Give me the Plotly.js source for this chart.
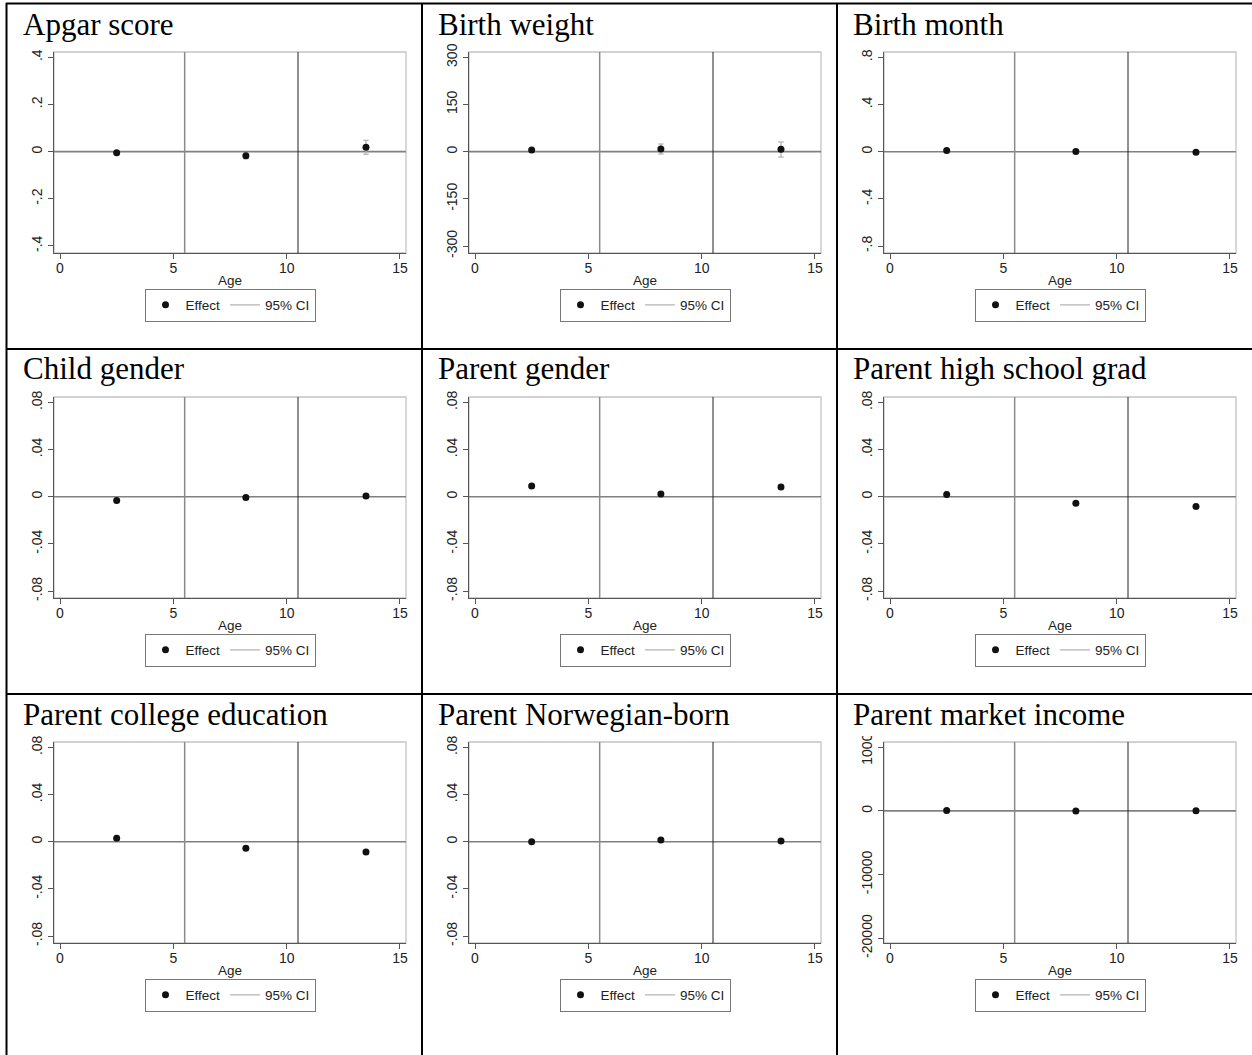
<!DOCTYPE html>
<html>
<head>
<meta charset="utf-8">
<script src="https://cdn.plot.ly/plotly-3.0.1.min.js"></script>
<style>html,body{margin:0;padding:0;background:#fff;}#chart{width:1252px;height:1055px;}</style>
</head>
<body>
<div id="chart"></div>
<script>
// ---- data ----
const ages = [2.5, 8.2, 13.5];
const titles = ["Apgar score", "Birth weight", "Birth month", "Child gender", "Parent gender",
  "Parent high school grad", "Parent college education", "Parent Norwegian-born", "Parent market income"];

const apgarEffect = [-0.005, -0.017, 0.019];
const apgarLo     = [-0.009, -0.030, -0.011];
const apgarHi     = [-0.001, -0.005, 0.048];

const bweightEffect = [5.4, 8.6, 7.6];
const bweightLo     = [2.0, -7.3, -16.9];
const bweightHi     = [8.8, 24.5, 30.9];

const bmonthEffect = [0.010, 0.002, -0.004];
const bmonthLo     = [-0.002, -0.010, -0.018];
const bmonthHi     = [0.022, 0.014, 0.010];

const cgenderEffect = [-0.0031, -0.0006, 0.0006];
const cgenderLo     = [-0.0046, -0.0022, -0.0010];
const cgenderHi     = [-0.0016, 0.0010, 0.0022];

const pgenderEffect = [0.0091, 0.0023, 0.0082];
const pgenderLo     = [0.0075, 0.0008, 0.0066];
const pgenderHi     = [0.0107, 0.0038, 0.0098];

const hsEffect = [0.0020, -0.0056, -0.0082];
const hsLo     = [0.0002, -0.0071, -0.0098];
const hsHi     = [0.0038, -0.0041, -0.0066];

const collegeEffect = [0.0030, -0.0055, -0.0088];
const collegeLo     = [0.0008, -0.0071, -0.0104];
const collegeHi     = [0.0052, -0.0039, -0.0072];

const norwEffect = [0.0000, 0.0015, 0.0006];
const norwLo     = [-0.0010, 0.0005, -0.0004];
const norwHi     = [0.0010, 0.0025, 0.0016];

const incomeEffect = [60, -20, 40];
const incomeLo     = [-250, -330, -280];
const incomeHi     = [370, 290, 360];

const effects = [apgarEffect, bweightEffect, bmonthEffect, cgenderEffect, pgenderEffect, hsEffect, collegeEffect, norwEffect, incomeEffect];
const lows    = [apgarLo, bweightLo, bmonthLo, cgenderLo, pgenderLo, hsLo, collegeLo, norwLo, incomeLo];
const highs   = [apgarHi, bweightHi, bmonthHi, cgenderHi, pgenderHi, hsHi, collegeHi, norwHi, incomeHi];

const xTicks = [0, 5, 10, 15];
const yTickVals = [
  [-0.4, -0.2, 0, 0.2, 0.4],
  [-300, -150, 0, 150, 300],
  [-0.8, -0.4, 0, 0.4, 0.8],
  [-0.08, -0.04, 0, 0.04, 0.08],
  [-0.08, -0.04, 0, 0.04, 0.08],
  [-0.08, -0.04, 0, 0.04, 0.08],
  [-0.08, -0.04, 0, 0.04, 0.08],
  [-0.08, -0.04, 0, 0.04, 0.08],
  [-20000, -10000, 0, 10000]
];
const yTickText = [
  ["-.4", "-.2", "0", ".2", ".4"],
  ["-300", "-150", "0", "150", "300"],
  ["-.8", "-.4", "0", ".4", ".8"],
  ["-.08", "-.04", "0", ".04", ".08"],
  ["-.08", "-.04", "0", ".04", ".08"],
  ["-.08", "-.04", "0", ".04", ".08"],
  ["-.08", "-.04", "0", ".04", ".08"],
  ["-.08", "-.04", "0", ".04", ".08"],
  ["-20000", "-10000", "0", "10000"]
];
const yRanges = [
  [-0.43, 0.4228], [-322, 317], [-0.859, 0.846],
  [-0.0859, 0.0846], [-0.0859, 0.0846], [-0.0859, 0.0846],
  [-0.0859, 0.0846], [-0.0859, 0.0846], [-20760, 10840]
];
const vLines = [5.5, 10.5];

// ---- layout geometry ----
const W = 1252, H = 1055;
const fx = v => v / W;
const fy = v => 1 - v / H;
const colStep = 415, rowStep = 345;

const traces = [];
const layout = {
  width: W, height: H,
  margin: {l: 0, r: 0, t: 0, b: 0},
  paper_bgcolor: '#fff', plot_bgcolor: '#fff',
  font: {family: 'Arial, "Liberation Sans", sans-serif', color: '#222', size: 13},
  showlegend: true,
  shapes: [], annotations: []
};

const capW = 0.12;
for (let i = 0; i < 9; i++) {
  const c = i % 3, r = Math.floor(i / 3);
  const sfx = i === 0 ? '' : String(i + 1);
  const xa = 'x' + sfx, ya = 'y' + sfx;
  const left = 54 + colStep * c, right = 406 + colStep * c;
  const top = 52 + rowStep * r, bottom = 253 + rowStep * r;

  // CI segments built from data
  const cx = [], cy = [];
  for (let k = 0; k < ages.length; k++) {
    const a = ages[k], lo = lows[i][k], hi = highs[i][k];
    cx.push(a, a, null, a - capW, a + capW, null, a - capW, a + capW, null);
    cy.push(lo, hi, null, lo, lo, null, hi, hi, null);
  }
  const lg = i === 0 ? 'legend' : 'legend' + (i + 1);
  traces.push({
    type: 'scatter', mode: 'lines', name: '95% CI', x: cx, y: cy,
    xaxis: xa, yaxis: ya, legend: lg,
    line: {color: '#b4b4b4', width: 1.3}, connectgaps: false
  });
  traces.push({
    type: 'scatter', mode: 'markers', name: 'Effect', x: ages, y: effects[i],
    xaxis: xa, yaxis: ya, legend: lg,
    marker: {color: '#111', size: 7, symbol: 'circle'},
    cliponaxis: false
  });

  layout['xaxis' + sfx] = {
    domain: [fx(left), fx(right)], anchor: ya,
    range: [-0.265, 15.265], tickvals: xTicks, ticktext: xTicks.map(String),
    showgrid: false, zeroline: false, showline: true, linecolor: '#555', linewidth: 1,
    ticks: 'outside', ticklen: 5, tickcolor: '#555', tickwidth: 1,
    tickfont: {size: 14, color: '#222'}, ticklabelstandoff: -3,
    title: {text: 'Age', font: {size: 13.5, color: '#222'}, standoff: 0},
    fixedrange: true
  };
  layout['yaxis' + sfx] = {
    domain: [fy(bottom), fy(top)], anchor: xa,
    range: yRanges[i], tickvals: yTickVals[i], ticktext: yTickText[i],
    tickangle: -90,
    showgrid: false, zeroline: false,
    showline: true, linecolor: '#555', linewidth: 1,
    ticks: 'outside', ticklen: 5, tickcolor: '#555', tickwidth: 1,
    tickfont: {size: 14, color: '#222'},
    fixedrange: true
  };
  // plot frame
  layout.shapes.push({type: 'rect', xref: xa + ' domain', yref: ya + ' domain', x0: 0, x1: 1, y0: 0, y1: 1,
    line: {color: '#c4c4c4', width: 1.3}, layer: 'below'});
  // zero line
  layout.shapes.push({type: 'line', xref: xa + ' domain', yref: ya, x0: 0, x1: 1, y0: 0, y1: 0,
    line: {color: '#808080', width: 1.7}, layer: 'below'});
  // vertical reference lines
  layout.shapes.push({type: 'line', xref: xa, yref: ya + ' domain', x0: vLines[0], x1: vLines[0], y0: 0, y1: 1,
    line: {color: '#8a8a8a', width: 1.5}, layer: 'below'});
  layout.shapes.push({type: 'line', xref: xa, yref: ya + ' domain', x0: vLines[1], x1: vLines[1], y0: 0, y1: 1,
    line: {color: '#222', width: 1}, layer: 'below'});

  // panel title
  layout.annotations.push({
    text: titles[i], xref: 'paper', yref: 'paper',
    x: fx(21 + colStep * c), y: fy(24 + rowStep * r), xanchor: 'left', yanchor: 'middle',
    showarrow: false, font: {family: '"Liberation Serif", "Times New Roman", serif', size: 31, color: '#000'}
  });

  // legend
  layout[lg] = {
    orientation: 'h', xref: 'paper', yref: 'paper',
    x: fx((left + right) / 2), y: fy(305 + rowStep * r), xanchor: 'center', yanchor: 'middle',
    bordercolor: '#777', borderwidth: 1, bgcolor: '#fff',
    font: {size: 13.5, color: '#222'}, itemwidth: 30, tracegroupgap: 0,
    traceorder: 'reversed', itemclick: false, itemdoubleclick: false
  };
}

// clip of the top tick label in the last panel (graph region edge)
layout.shapes.push({type: 'rect', xref: 'paper', yref: 'paper', x0: fx(856), x1: fx(880), y0: fy(736), y1: fy(712),
  fillcolor: '#fff', line: {width: 0}, layer: 'above'});

// table rules
const lineBlack = {color: '#000', width: 2};
layout.shapes.push({type: 'line', xref: 'paper', yref: 'paper', x0: fx(6), x1: 1, y0: fy(3.5), y1: fy(3.5), line: lineBlack});
layout.shapes.push({type: 'line', xref: 'paper', yref: 'paper', x0: fx(6), x1: 1, y0: fy(349), y1: fy(349), line: lineBlack});
layout.shapes.push({type: 'line', xref: 'paper', yref: 'paper', x0: fx(6), x1: 1, y0: fy(694), y1: fy(694), line: lineBlack});
[6.5, 422, 837].forEach(xv => {
  layout.shapes.push({type: 'line', xref: 'paper', yref: 'paper', x0: fx(xv), x1: fx(xv), y0: 0, y1: fy(3), line: lineBlack});
});

Plotly.newPlot('chart', traces, layout, {staticPlot: true, displayModeBar: false});
</script>
</body>
</html>
